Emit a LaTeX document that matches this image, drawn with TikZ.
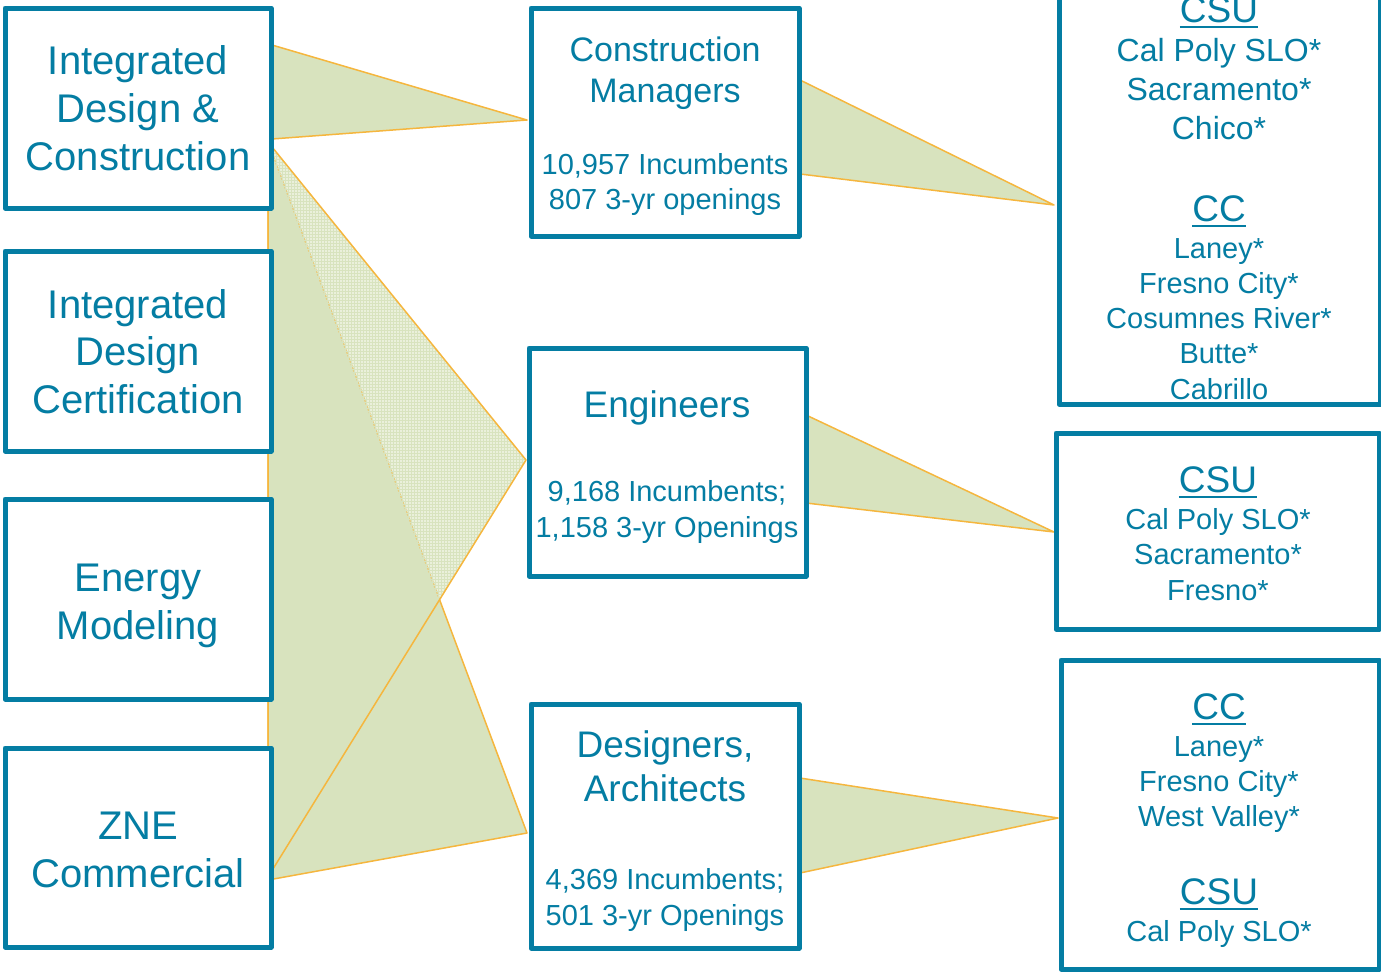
\documentclass[tikz,border=0pt]{standalone}
\usepackage{fontspec}
\setmainfont{Liberation Sans}
\usetikzlibrary{patterns}
\definecolor{boxblue}{RGB}{4,125,163}
\definecolor{leaf}{RGB}{216,227,190}
\definecolor{edgeorange}{RGB}{245,182,62}
\tikzset{
  box/.style={draw=boxblue, line width=5pt, fill=white, line join=round, inner sep=0pt},
  wedge/.style={fill=leaf, draw=edgeorange, line width=1.5pt, line join=round},
  txt/.style={text=boxblue, anchor=base, inner sep=0pt},
  tA/.style={txt, font=\fontsize{40}{48}\selectfont},
  tB/.style={txt, font=\fontsize{34}{41}\selectfont},
  tC/.style={txt, font=\fontsize{29}{35}\selectfont},
  tD/.style={txt, font=\fontsize{37}{44}\selectfont},
  tE/.style={txt, font=\fontsize{32}{39}\selectfont},
  uline/.style={draw=boxblue, line width=2.4pt},
}
\begin{document}
\begin{tikzpicture}[x=1pt,y=-1pt]
\useasboundingbox (0,0) rectangle (1381,972);

% ---- connector wedges ----
\coordinate (a1) at (268,142);
\coordinate (a2) at (526,460);
\coordinate (a3) at (268,877);
\coordinate (b3) at (268,880);
\coordinate (b2) at (527,833);
\draw[wedge] (a1) -- (b2) -- (b3) -- cycle;
\fill[leaf, fill opacity=0.55] (a1) -- (a2) -- (a3) -- cycle;
\fill[pattern=grid, pattern color=leaf] (a1) -- (a2) -- (a3) -- cycle;
\draw[edgeorange, line width=1.5pt, line join=round] (a3) -- (a1) -- (a2) -- (a3);

\draw[wedge] (272,45) -- (527,120) -- (272,139) -- cycle;
\draw[wedge] (800,80) -- (1054,205) -- (800,174) -- cycle;
\draw[wedge] (806,415) -- (1054,532) -- (806,503) -- cycle;
\draw[wedge] (800,778) -- (1058,818) -- (800,873) -- cycle;

% ---- left boxes ----
\node[box, minimum width=266pt, minimum height=200pt] (b1) at (138,108) {};
\node[box, minimum width=266pt, minimum height=200pt] (b2) at (138,351) {};
\node[box, minimum width=266pt, minimum height=200pt] (b3) at (138,599) {};
\node[box, minimum width=266pt, minimum height=199pt] (b4) at (138,847.5) {};

\node[tA] (b1l1) at (138,74) {Integrated};
\node[tA] (b1l2) at (138,122) {Design \&};
\node[tA] (b1l3) at (138,170) {Construction};
\node[tA] (b2l1) at (138,318) {Integrated};
\node[tA] (b2l2) at (138,365) {Design};
\node[tA] (b2l3) at (138,413) {Certification};
\node[tA] (b3l1) at (138,591) {Energy};
\node[tA] (b3l2) at (138,639) {Modeling};
\node[tA] (b4l1) at (138,839) {ZNE};
\node[tA] (b4l2) at (138,887) {Commercial};

% ---- middle boxes ----
\node[box, minimum width=268pt, minimum height=228pt] (cm) at (665,122) {};
\node[box, minimum width=277pt, minimum height=228pt] (en) at (667.5,462) {};
\node[box, minimum width=268pt, minimum height=244pt] (de) at (665,826) {};

\node[tB] (cml1) at (665,61) {Construction};
\node[tB] (cml2) at (665,102) {Managers};
\node[tC] (cms1) at (665,174.5) {10,957 Incumbents};
\node[tC] (cms2) at (665,209.5) {807 3-yr openings};

\node[tD] (enl1) at (667,417) {Engineers};
\node[tC] (ens1) at (667,501.5) {9,168 Incumbents;};
\node[tC] (ens2) at (667,537.5) {1,158 3-yr Openings};

\node[tD] (del1) at (665,757) {Designers,};
\node[tD] (del2) at (665,801) {Architects};
\node[tC] (des1) at (665,889.5) {4,369 Incumbents;};
\node[tC] (des2) at (665,925.5) {501 3-yr Openings};

% ---- right boxes ----
\node[box, minimum width=321pt, minimum height=414pt] (r1) at (1219.5,197) {};
\node[box, minimum width=323pt, minimum height=196pt] (r2) at (1217.5,531) {};
\node[box, minimum width=318pt, minimum height=309pt] (r3) at (1220,814.5) {};

\node[tD] (r1h1) at (1219,22) {CSU};
\draw[uline] ([yshift=-5pt]r1h1.base west) -- ([yshift=-5pt]r1h1.base east);
\node[tE] (r1a) at (1219,61.5) {Cal Poly SLO*};
\node[tE] (r1b) at (1219,100.5) {Sacramento*};
\node[tE] (r1c) at (1219,139.5) {Chico*};
\node[tD] (r1h2) at (1219,221) {CC};
\draw[uline] ([yshift=-5pt]r1h2.base west) -- ([yshift=-5pt]r1h2.base east);
\node[tC] (r1d) at (1219,258.5) {Laney*};
\node[tC] (r1e) at (1219,293.5) {Fresno City*};
\node[tC] (r1f) at (1219,328.5) {Cosumnes River*};
\node[tC] (r1g) at (1219,363.5) {Butte*};
\node[tC] (r1h) at (1219,399.5) {Cabrillo};

\node[tD] (r2h1) at (1218,492) {CSU};
\draw[uline] ([yshift=-5pt]r2h1.base west) -- ([yshift=-5pt]r2h1.base east);
\node[tC] (r2a) at (1218,529.5) {Cal Poly SLO*};
\node[tC] (r2b) at (1218,564.5) {Sacramento*};
\node[tC] (r2c) at (1218,600.5) {Fresno*};

\node[tD] (r3h1) at (1219,719) {CC};
\draw[uline] ([yshift=-5pt]r3h1.base west) -- ([yshift=-5pt]r3h1.base east);
\node[tC] (r3a) at (1219,756.5) {Laney*};
\node[tC] (r3b) at (1219,791.5) {Fresno City*};
\node[tC] (r3c) at (1219,826.5) {West Valley*};
\node[tD] (r3h2) at (1219,904) {CSU};
\draw[uline] ([yshift=-5pt]r3h2.base west) -- ([yshift=-5pt]r3h2.base east);
\node[tC] (r3d) at (1219,941.5) {Cal Poly SLO*};
\end{tikzpicture}
\end{document}
